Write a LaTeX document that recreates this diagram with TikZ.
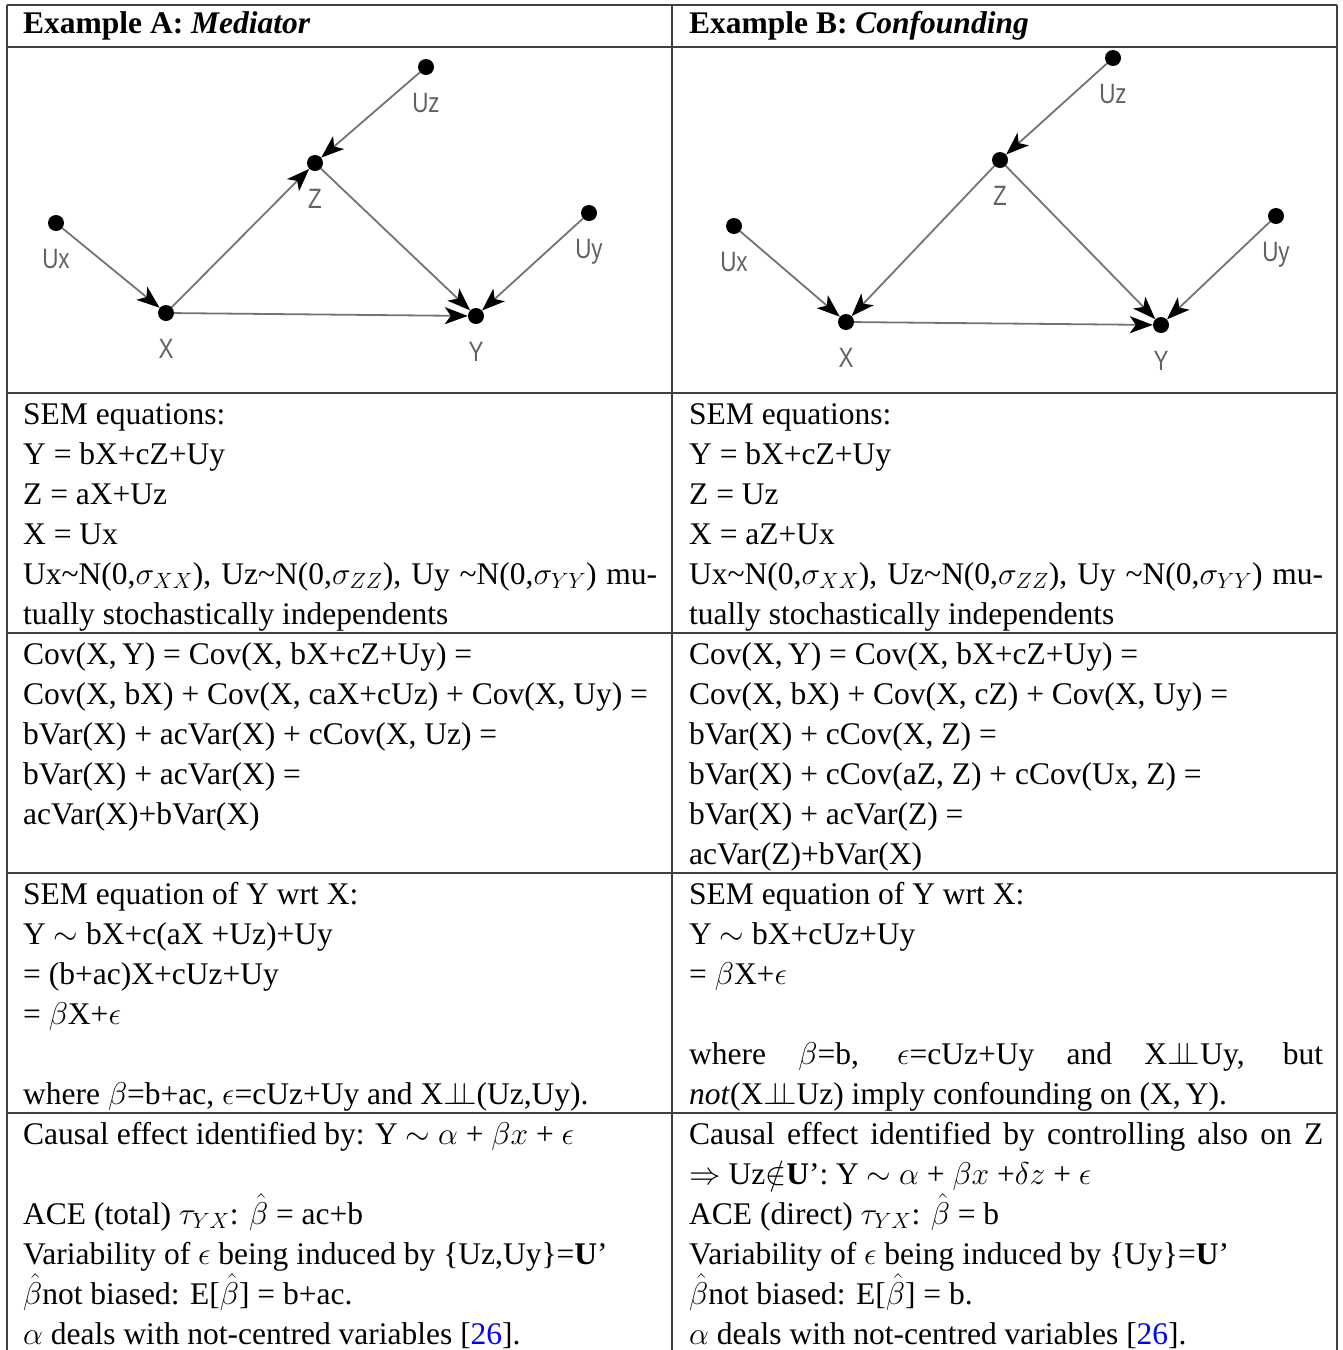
\RequirePackage{fix-cm}
\documentclass[tikz,border=0pt]{standalone}
\usepackage{fontspec}
\setmainfont{Liberation Serif}
\newfontfamily\dagfont[FakeStretch=0.8]{Liberation Sans}
\usepackage{xcolor}
\usetikzlibrary{arrows.meta,positioning}

\newcommand{\indepsym}{\ensuremath{\perp\!\!\!\perp}}
\newcommand{\cellsetup}{\parindent=0pt\relax\leftskip=0pt\relax\rightskip=0pt\relax
  \spaceskip=0pt\relax\xspaceskip=0pt\relax\parfillskip=0pt plus 1fil\relax
  \tolerance=9999\relax\hyphenpenalty=10000\relax}

\tikzset{
  dot/.style={circle, fill=black, inner sep=0pt, minimum size=16pt},
  lbl/.style={font=\dagfont\fontsize{28}{28}\selectfont, text=black!62, inner sep=0pt},
  edge/.style={draw=black!55, line width=1.8pt, -{Stealth[black, length=23pt, width=17pt, inset=6pt]}},
  rule/.style={draw=black!75, line width=1.5pt},
  head/.style={anchor=base west, inner sep=0pt, font=\fontsize{31.5}{40}\selectfont},
  cell/.style={anchor=base west, inner sep=0pt, text width=634pt,
    font=\fontsize{31.5}{40}\selectfont, execute at begin node=\cellsetup}
}

\begin{document}
\begin{tikzpicture}[x=1pt,y=-1pt]
    \useasboundingbox (0,0) rectangle (1343,1350);
    % table rules
    \draw[rule] (7,5) -- (1337,5);
    \draw[rule] (7,47) -- (1337,47);
    \draw[rule] (7,393) -- (1337,393);
    \draw[rule] (7,633) -- (1337,633);
    \draw[rule] (7,873) -- (1337,873);
    \draw[rule] (7,1113) -- (1337,1113);
    \draw[rule] (7,5) -- (7,1350);
    \draw[rule] (672,5) -- (672,1350);
    \draw[rule] (1337,5) -- (1337,1350);

    % headers
    \node[head] (hdrA) at (23,33) {\textbf{Example A: \textit{Mediator}}};
    \node[head] (hdrB) at (689,33) {\textbf{Example B: \textit{Confounding}}};

    % example A graph
    \node[dot] (uzA) at (426,67) {};
    \node[dot] (zA) at (315,163) {};
    \node[dot] (uxA) at (56,223) {};
    \node[dot] (xA) at (166,313) {};
    \node[dot] (yA) at (476,316) {};
    \node[dot] (uyA) at (589,213) {};
    \node[lbl, below=18pt of uzA] (uzAl) {Uz};
    \node[lbl, below=18pt of zA] (zAl) {Z};
    \node[lbl, below=18pt of uxA] (uxAl) {Ux};
    \node[lbl, below=18pt of xA] (xAl) {X};
    \node[lbl, below=18pt of yA] (yAl) {Y};
    \node[lbl, below=18pt of uyA] (uyAl) {Uy};
    \draw[edge] (uzA) -- (zA);
    \draw[edge] (xA) -- (zA);
    \draw[edge] (uxA) -- (xA);
    \draw[edge] (xA) -- (yA);
    \draw[edge] (zA) -- (yA);
    \draw[edge] (uyA) -- (yA);

    % example B graph
    \node[dot] (uzB) at (1113,58) {};
    \node[dot] (zB) at (1000,160) {};
    \node[dot] (uxB) at (734,226) {};
    \node[dot] (xB) at (846,322) {};
    \node[dot] (yB) at (1161,325) {};
    \node[dot] (uyB) at (1276,216) {};
    \node[lbl, below=18pt of uzB] (uzBl) {Uz};
    \node[lbl, below=18pt of zB] (zBl) {Z};
    \node[lbl, below=18pt of uxB] (uxBl) {Ux};
    \node[lbl, below=18pt of xB] (xBl) {X};
    \node[lbl, below=18pt of yB] (yBl) {Y};
    \node[lbl, below=18pt of uyB] (uyBl) {Uy};
    \draw[edge] (uzB) -- (zB);
    \draw[edge] (zB) -- (xB);
    \draw[edge] (uxB) -- (xB);
    \draw[edge] (xB) -- (yB);
    \draw[edge] (zB) -- (yB);
    \draw[edge] (uyB) -- (yB);

    % SEM equations
    \node[cell] (semA) at (23,424) {SEM equations:\newline
      Y = bX+cZ+Uy\newline
      Z = aX+Uz\newline
      X = Ux\newline
      Ux\textasciitilde N(0,$\sigma_{XX}$), Uz\textasciitilde N(0,$\sigma_{ZZ}$), Uy \textasciitilde N(0,$\sigma_{YY}$) mu-\linebreak
      tually stochastically independents};
    \node[cell] (semB) at (689,424) {SEM equations:\newline
      Y = bX+cZ+Uy\newline
      Z = Uz\newline
      X = aZ+Ux\newline
      Ux\textasciitilde N(0,$\sigma_{XX}$), Uz\textasciitilde N(0,$\sigma_{ZZ}$), Uy \textasciitilde N(0,$\sigma_{YY}$) mu-\linebreak
      tually stochastically independents};

    % covariances
    \node[cell] (covA) at (23,664) {Cov(X,\,Y) = Cov(X, bX+cZ+Uy) =\newline
      Cov(X, bX) + Cov(X, caX+cUz) + Cov(X, Uy) =\newline
      bVar(X) + acVar(X) + cCov(X, Uz) =\newline
      bVar(X) + acVar(X) =\newline
      acVar(X)+bVar(X)};
    \node[cell] (covB) at (689,664) {Cov(X,\,Y) = Cov(X, bX+cZ+Uy) =\newline
      Cov(X, bX) + Cov(X, cZ) + Cov(X, Uy) =\newline
      bVar(X) + cCov(X, Z) =\newline
      bVar(X) + cCov(aZ, Z) + cCov(Ux, Z) =\newline
      bVar(X) + acVar(Z) =\newline
      acVar(Z)+bVar(X)};

    % SEM of Y wrt X
    \node[cell] (wrtA) at (23,904) {SEM equation of Y wrt X:\newline
      Y $\sim$ bX+c(aX +Uz)+Uy\newline
      = (b+ac)X+cUz+Uy\newline
      = $\beta$X+$\epsilon$\newline
      \mbox{}\newline
      where $\beta$=b+ac, $\epsilon$=cUz+Uy and X\indepsym(Uz,Uy).};
    \node[cell] (wrtB) at (689,904) {SEM equation of Y wrt X:\newline
      Y $\sim$ bX+cUz+Uy\newline
      = $\beta$X+$\epsilon$\newline
      \mbox{}\newline
      where $\beta$=b, $\epsilon$=cUz+Uy and X\indepsym Uy, but\linebreak
      \textit{not}(X\indepsym Uz) imply confounding on (X,\,Y).};

    % causal effect
    \node[cell] (aceA) at (23,1144) {Causal effect identified by: Y $\sim$ $\alpha$ + $\beta x$ + $\epsilon$\newline
      \mbox{}\newline
      ACE (total) $\tau_{YX}$: $\hat{\beta}$ = ac+b\newline
      Variability of $\epsilon$ being induced by \{Uz,Uy\}=\textbf{U}'\newline
      $\hat{\beta}$not biased: E[$\hat{\beta}$] = b+ac.\newline
      $\alpha$ deals with not-centred variables [\textcolor{blue}{26}].};
    \node[cell] (aceB) at (689,1144) {Causal effect identified by controlling also on Z\linebreak
      $\Rightarrow$ Uz$\notin$\textbf{U}': Y $\sim$ $\alpha$ + $\beta x$ +$\delta z$ + $\epsilon$\newline
      ACE (direct) $\tau_{YX}$: $\hat{\beta}$ = b\newline
      Variability of $\epsilon$ being induced by \{Uy\}=\textbf{U}'\newline
      $\hat{\beta}$not biased: E[$\hat{\beta}$] = b.\newline
      $\alpha$ deals with not-centred variables [\textcolor{blue}{26}].};
\end{tikzpicture}
\end{document}
